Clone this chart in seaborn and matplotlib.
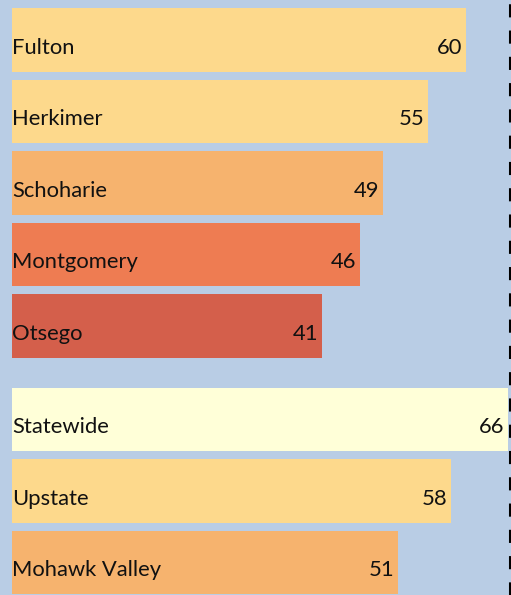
import matplotlib
matplotlib.use("Agg")
import matplotlib.pyplot as plt
from matplotlib.lines import Line2D
import seaborn as sns
import pandas as pd

# County and regional scores
counties = ["Fulton", "Herkimer", "Schoharie", "Montgomery", "Otsego"]
county_values = [60, 55, 49, 46, 41]
regions = ["Statewide", "Upstate", "Mohawk Valley"]
region_values = [66, 58, 51]

bar_colors = {
    "Fulton": "#fdd98c",
    "Herkimer": "#fdd98c",
    "Schoharie": "#f6b36e",
    "Montgomery": "#ee7c52",
    "Otsego": "#d45f4b",
    "Statewide": "#ffffd8",
    "Upstate": "#fdd98c",
    "Mohawk Valley": "#f6b36e",
}
BG = "#b9cde5"

sns.set_theme(style="white")
plt.rcParams["font.family"] = ["Lato", "DejaVu Sans"]

W, H = 511, 595
fig = plt.figure(figsize=(W / 100, H / 100), dpi=100, facecolor=BG)

px_per_unit = 7.567
x_left = 12
x_right = 508
x_max = (x_right - x_left) / px_per_unit
FS = 15.8


def panel(top_px, bottom_px, names, values):
    ax = fig.add_axes([x_left / W, 1 - bottom_px / H,
                       (x_right - x_left) / W, (bottom_px - top_px) / H])
    df = pd.DataFrame({"name": names, "value": values})
    sns.barplot(data=df, x="value", y="name", hue="name", palette=bar_colors,
                legend=False, orient="h", width=0.895, saturation=1,
                edgecolor="none", ax=ax)
    ax.set_xlim(0, x_max)
    ax.set_ylim(len(names) - 0.5, -0.5)
    ax.set_facecolor(BG)
    ax.axis("off")
    for i, (n, v) in enumerate(zip(names, values)):
        ax.text(0.0, i + 0.11, n, ha="left", va="center", fontsize=FS, color="#111111")
        ax.text(min(v, x_max) - 0.45, i + 0.11, str(v), ha="right", va="center",
                fontsize=FS, color="#111111")
    return ax


pitch = 71.5
panel(4.25, 4.25 + 5 * pitch, counties, county_values)
panel(383.75, 383.75 + 3 * pitch, regions, region_values)

# Dashed divider along the right edge
fig.add_artist(Line2D([509.8 / W, 509.8 / W], [0, 1], transform=fig.transFigure,
                      color="black", lw=2.2, linestyle=(0, (4.3, 4.3))))

fig.savefig("out.png", dpi=100, facecolor=BG)
